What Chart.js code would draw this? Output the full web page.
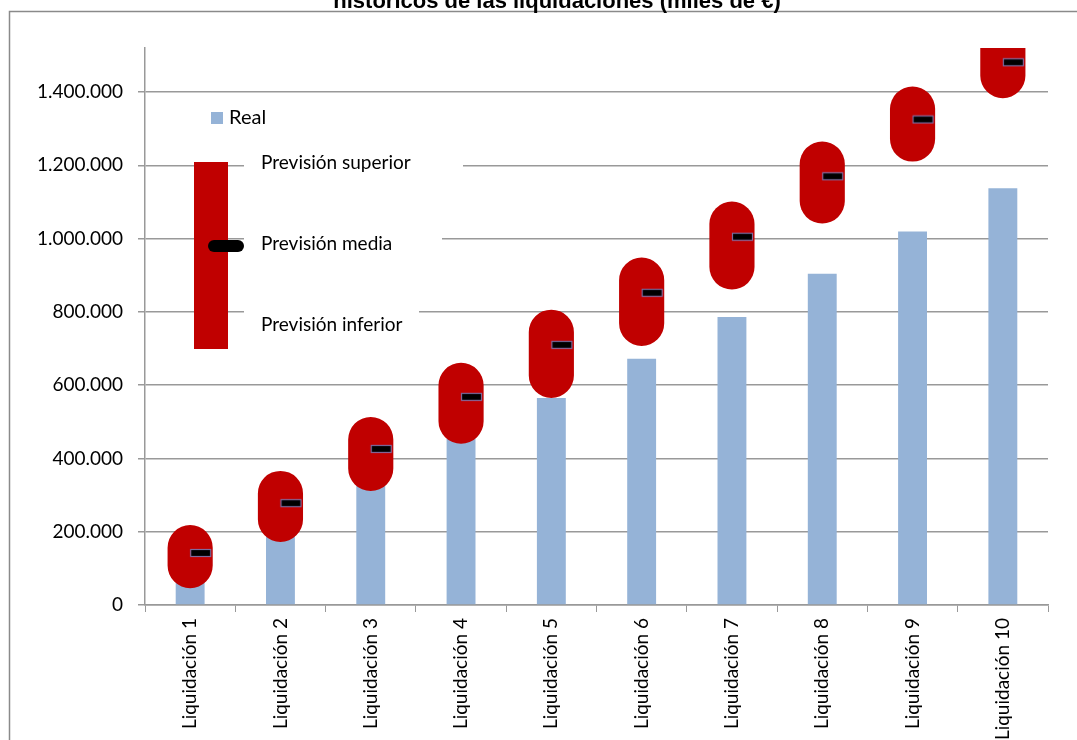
<!DOCTYPE html>
<html>
<head>
<meta charset="utf-8">
<script src="https://cdn.jsdelivr.net/npm/chart.js@4"></script>
<style>
  html, body { margin: 0; padding: 0; background: #fff; }
  #wrap { width: 1077px; height: 740px; }
</style>
</head>
<body>
<div id="wrap"><canvas id="chart" width="1077" height="740"></canvas></div>
<script>
const categories = ['Liquidación 1', 'Liquidación 2', 'Liquidación 3', 'Liquidación 4', 'Liquidación 5',
  'Liquidación 6', 'Liquidación 7', 'Liquidación 8', 'Liquidación 9', 'Liquidación 10'];
const real = [110000, 225000, 340000, 455000, 565000, 672000, 786000, 904000, 1019000, 1137000];
const previsionSuperior = [218000, 366000, 513000, 661000, 806000, 948000, 1101000, 1265000, 1415000, 1600000];
const previsionInferior = [46000, 172000, 311000, 440000, 565000, 707000, 861000, 1041000, 1210000, 1383000];
const previsionMedia = [142000, 278000, 426000, 568000, 710000, 852000, 1005000, 1170000, 1325000, 1481000];
const yTicks = [0, 200000, 400000, 600000, 800000, 1000000, 1200000, 1400000];

const FONT = 'Lato';
const fmt = v => String(v).replace(/\B(?=(\d{3})+(?!\d))/g, '.');

// marker for the mean: black bar starting at the category centre
const marker = document.createElement('canvas');
marker.width = 44;
marker.height = 10;
const mctx = marker.getContext('2d');
mctx.fillStyle = '#000';
mctx.fillRect(22, 1, 21, 8);
mctx.strokeStyle = '#7F6A9E';
mctx.lineWidth = 1.2;
mctx.strokeRect(22.5, 1.5, 20, 7);

const extras = {
  id: 'extras',
  afterDraw(chart) {
    const ctx = chart.ctx;
    ctx.save();
    // frame
    ctx.strokeStyle = '#8a8a8a';
    ctx.lineWidth = 1.5;
    ctx.beginPath();
    ctx.moveTo(9.5, 740);
    ctx.lineTo(9.5, 11.5);
    ctx.lineTo(1077, 11.5);
    ctx.stroke();

    // title (upper part cut off)
    ctx.fillStyle = '#000';
    ctx.font = 'bold 22px "Liberation Sans"';
    ctx.textAlign = 'center';
    ctx.textBaseline = 'alphabetic';
    ctx.fillText('históricos de las liquidaciones (miles de €)', 557, 8);

    // legend
    ctx.fillStyle = '#95B3D7';
    ctx.fillRect(211, 112, 12, 12);
    ctx.fillStyle = '#000';
    ctx.font = '20px ' + FONT;
    ctx.textAlign = 'left';
    ctx.textBaseline = 'middle';
    ctx.fillText('Real', 229, 118);

    ctx.fillStyle = '#fff';
    ctx.fillRect(244, 148, 219, 30);
    ctx.fillRect(244, 228, 198, 30);
    ctx.fillRect(244, 309, 175, 30);

    ctx.fillStyle = '#C00000';
    ctx.fillRect(194, 162, 34, 187);
    ctx.fillStyle = '#000';
    ctx.beginPath();
    ctx.roundRect(208, 240, 36, 12, 6);
    ctx.fill();

    ctx.font = '19px ' + FONT;
    ctx.fillText('Previsión superior', 261, 163);
    ctx.fillText('Previsión media', 261, 244);
    ctx.fillText('Previsión inferior', 261, 325);
    ctx.restore();
  }
};

new Chart(document.getElementById('chart'), {
  type: 'bar',
  data: {
    labels: categories,
    datasets: [
      {
        label: 'Real',
        data: real,
        backgroundColor: '#95B3D7',
        grouped: false,
        categoryPercentage: 1,
        barPercentage: 0.32,
        order: 3
      },
      {
        label: 'Previsión',
        data: previsionInferior.map((v, i) => [v, previsionSuperior[i]]),
        backgroundColor: '#C00000',
        grouped: false,
        categoryPercentage: 1,
        barPercentage: 0.5,
        borderRadius: 23,
        borderSkipped: false,
        order: 2
      },
      {
        type: 'line',
        label: 'Previsión media',
        data: previsionMedia,
        showLine: false,
        pointStyle: marker,
        order: 1
      }
    ]
  },
  options: {
    responsive: false,
    animation: false,
    layout: { padding: { top: 48, right: 29, left: 0, bottom: 0 } },
    plugins: {
      legend: { display: false },
      title: { display: false },
      tooltip: { enabled: false }
    },
    scales: {
      x: {
        ticks: { minRotation: 90, maxRotation: 90, color: '#000', font: { family: FONT, size: 19 }, padding: 6 },
        grid: { offset: true, drawOnChartArea: false, tickLength: 7, color: '#999' },
        border: { color: '#999', width: 1.5 },
        afterFit: s => { s.height = 135; }
      },
      y: {
        min: 0,
        max: 1520000,
        afterBuildTicks: s => { s.ticks = yTicks.map(v => ({ value: v })); },
        ticks: {
          color: '#000',
          font: { family: FONT, size: 19 },
          padding: 15,
          callback: v => fmt(v)
        },
        grid: { color: '#999', lineWidth: 1.5, tickLength: 7 },
        border: { color: '#999', width: 1.5 },
        afterFit: s => { s.width = 145; }
      }
    }
  },
  plugins: [extras]
});
</script>
</body>
</html>
